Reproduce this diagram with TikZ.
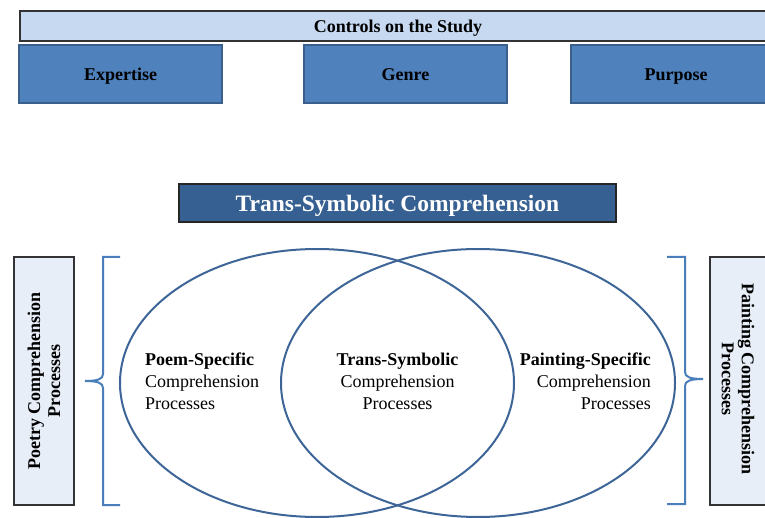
\documentclass[tikz,border=0pt]{standalone}
\usepackage{fontspec}
\setmainfont{Liberation Serif}
\usetikzlibrary{shapes.geometric}
\definecolor{barfill}{HTML}{C6D9F1}
\definecolor{boxfill}{HTML}{4F81BD}
\definecolor{boxdraw}{HTML}{3A5F8C}
\definecolor{transfill}{HTML}{366092}
\definecolor{sidefill}{HTML}{E8EEF7}
\definecolor{ellcol}{HTML}{3D6597}
\definecolor{bracecol}{HTML}{4A7EBB}
\definecolor{framecol}{HTML}{333333}
\tikzset{
  bar/.style={draw=framecol, line width=1.1pt, fill=barfill, inner sep=0pt,
    text height=15pt, text depth=2pt,
    font=\fontsize{18}{20}\selectfont\bfseries},
  ctrlbox/.style={draw=boxdraw, line width=1.2pt, fill=boxfill, inner sep=0pt,
    text height=15pt, text depth=2pt,
    minimum width=203pt, minimum height=58pt, font=\fontsize{18}{20}\selectfont\bfseries},
  transbox/.style={draw=black!85, line width=1.2pt, fill=transfill, text=white, inner sep=0pt,
    text height=20pt, text depth=3pt,
    minimum width=437pt, minimum height=38pt, font=\fontsize{23.5}{26}\selectfont\bfseries},
  sidebox/.style={draw=framecol, line width=1.1pt, fill=sidefill, inner sep=0pt,
    minimum height=248pt},
  sidetext/.style={align=center, inner sep=0pt, font=\fontsize{18}{20}\selectfont\bfseries},
  venn/.style={ellipse, draw=ellcol, line width=2pt, inner sep=0pt,
    minimum width=394pt, minimum height=268pt},
  ventext/.style={inner sep=0pt, font=\fontsize{18}{22}\selectfont},
  bracestyle/.style={draw=bracecol, line width=2pt}
}
\begin{document}
\begin{tikzpicture}[x=1pt,y=-1pt]
\path[use as bounding box] (0,0) rectangle (765,518);
\clip (0,0) rectangle (765,518);
\fill[white] (0,0) rectangle (765,518);

% controls
\node[bar, minimum width=756pt, minimum height=30pt] (ctrl) at (398,26) {Controls on the Study};
\node[ctrlbox] (exp) at (120.5,74) {Expertise};
\node[ctrlbox] (gen) at (405.5,74) {Genre};
\node[ctrlbox, minimum width=210pt] (pur) at (676,74) {Purpose};

% title
\node[transbox] (trans) at (397.5,203) {Trans-Symbolic Comprehension};

% side boxes
\node[sidebox, minimum width=60pt] (lbox) at (44,381) {};
\node[sidetext, rotate=90] (ltext) at (lbox.center) {Poetry Comprehension\\Processes};
\node[sidebox, minimum width=60pt] (rbox) at (740,381) {};
\node[sidetext, rotate=-90] (rtext) at (738,379) {Painting Comprehension\\Processes};

% braces
\draw[bracestyle] (120,257) -- (103,257) -- (103,374)
  .. controls (103,379) and (98,381) .. (85,381)
  .. controls (98,381) and (103,383) .. (103,388) -- (103,505) -- (120,505);
\draw[bracestyle] (667,257) -- (685,257) -- (685,372)
  .. controls (685,377) and (690,379) .. (703,379)
  .. controls (690,379) and (685,381) .. (685,386) -- (685,504) -- (667,504);

% venn
\node[venn] (eL) at (317,383) {};
\node[venn] (eR) at (478,383) {};

\node[ventext, align=left, anchor=west] (ltx) at (145,381) {\textbf{Poem-Specific}\\Comprehension\\Processes};
\node[ventext, align=center] (ctx) at (397.5,381) {\textbf{Trans-Symbolic}\\Comprehension\\Processes};
\node[ventext, align=right, anchor=east] (rtx) at (651,381) {\textbf{Painting-Specific}\\Comprehension\\Processes};
\end{tikzpicture}
\end{document}
